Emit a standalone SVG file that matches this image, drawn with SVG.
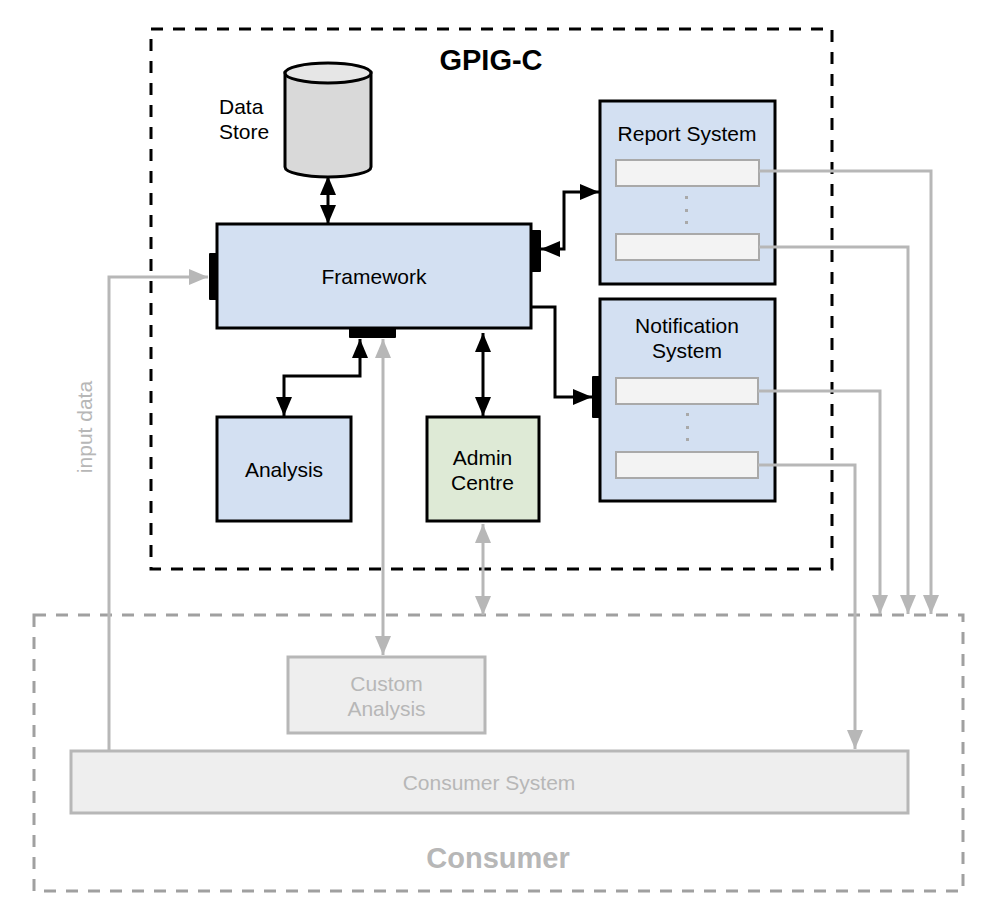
<svg xmlns="http://www.w3.org/2000/svg" width="993" height="922" viewBox="0 0 993 922">
<style>
text{font-family:"Liberation Sans",Arial,sans-serif;font-size:21px;text-anchor:middle;fill:#000}
.blue{fill:#d3e0f2;stroke:#000;stroke-width:3}
.green{fill:#deead6;stroke:#000;stroke-width:3}
.slot{fill:#f3f3f3;stroke:#a9a9a9;stroke-width:2}
.grey{fill:#eeeeee;stroke:#b7b7b7;stroke-width:3}
.port{fill:#000}
.k{fill:none;stroke:#000;stroke-width:3}
.g{fill:none;stroke:#b7b7b7;stroke-width:3}
.dot{fill:#a9a9a9}
</style>
<defs>
<marker id="ak" markerUnits="userSpaceOnUse" markerWidth="20" markerHeight="16" refX="19" refY="8" orient="auto-start-reverse" viewBox="0 0 20 16"><path d="M0 0L19 8L0 16Z" fill="#000"/></marker>
<marker id="ag" markerUnits="userSpaceOnUse" markerWidth="20" markerHeight="16" refX="19" refY="8" orient="auto-start-reverse" viewBox="0 0 20 16"><path d="M0 0L19 8L0 16Z" fill="#b7b7b7"/></marker>
</defs>
<g id="gpig-c"><rect x="151" y="29" width="681" height="540" fill="none" stroke="#000" stroke-width="3" stroke-dasharray="12 10"/><text x="491" y="70" style="font-size:29px;font-weight:bold">GPIG-C</text></g>
<g id="consumer"><rect x="34" y="615" width="929" height="276" fill="none" stroke="#a0a0a0" stroke-width="3" stroke-dasharray="12 10"/><text x="498" y="868" style="font-size:29px;font-weight:bold;fill:#b7b7b7">Consumer</text></g>
<g id="data-store"><path d="M285 73V167A43 10 0 0 0 371 167V73Z" fill="#d9d9d9" stroke="#000" stroke-width="3"/><ellipse cx="328" cy="73" rx="43" ry="10" fill="#e6e6e6" stroke="#000" stroke-width="3"/><text x="219" y="114" style="text-anchor:start">Data</text><text x="219" y="139" style="text-anchor:start">Store</text></g>
<g id="framework"><rect class="blue" x="217" y="224" width="314" height="104"/><text x="374" y="284">Framework</text><rect class="port" x="209" y="253" width="9" height="47" rx="1"/><rect class="port" x="531" y="230" width="10" height="42" rx="1"/><rect class="port" x="349" y="328" width="47" height="10" rx="1"/></g>
<g id="analysis"><rect class="blue" x="217" y="417" width="134" height="104"/><text x="284" y="477">Analysis</text></g>
<g id="admin-centre"><rect class="green" x="427" y="417" width="112" height="104"/><text x="482.500" y="465">Admin</text><text x="482.500" y="490">Centre</text></g>
<g id="report-system"><rect class="blue" x="600" y="101" width="175" height="183"/><text x="687" y="141">Report System</text><rect class="slot" x="616" y="160" width="143" height="26"/><rect class="slot" x="616" y="234" width="143" height="26"/><rect class="dot" x="685" y="196" width="3" height="3"/><rect class="dot" x="685" y="209" width="3" height="3"/><rect class="dot" x="685" y="221" width="3" height="3"/></g>
<g id="notification-system"><rect class="blue" x="600" y="299" width="175" height="202"/><text x="687" y="333">Notification</text><text x="687" y="358">System</text><rect class="slot" x="616" y="378" width="142" height="26"/><rect class="slot" x="616" y="452" width="142" height="26"/><rect class="dot" x="686" y="413" width="3" height="3"/><rect class="dot" x="686" y="426" width="3" height="3"/><rect class="dot" x="686" y="438" width="3" height="3"/><rect class="port" x="592" y="376" width="9" height="42" rx="1"/></g>
<g id="custom-analysis"><rect class="grey" x="288" y="657" width="197" height="76"/><text x="386.500" y="691" style="fill:#b7b7b7">Custom</text><text x="386.500" y="716" style="fill:#b7b7b7">Analysis</text></g>
<g id="consumer-system"><rect class="grey" x="71" y="751" width="837" height="62"/><text x="489" y="790" style="fill:#b7b7b7">Consumer System</text></g>
<g id="connectors">
<path class="k" d="M328 176V224" marker-start="url(#ak)" marker-end="url(#ak)"/>
<path class="k" d="M541 249H564V192H599" marker-start="url(#ak)" marker-end="url(#ak)"/>
<path class="k" d="M532 307H555V397H592" marker-end="url(#ak)"/>
<path class="k" d="M360 339V376H284V416" marker-start="url(#ak)" marker-end="url(#ak)"/>
<path class="k" d="M483 333V416" marker-start="url(#ak)" marker-end="url(#ak)"/>
<path class="g" d="M109 750V277H208" marker-end="url(#ag)"/>
<path class="g" d="M383 339V655" marker-start="url(#ag)" marker-end="url(#ag)"/>
<path class="g" d="M483 524V615" marker-start="url(#ag)" marker-end="url(#ag)"/>
<path class="g" d="M759 171H931V614" marker-end="url(#ag)"/>
<path class="g" d="M759 247H908V614" marker-end="url(#ag)"/>
<path class="g" d="M758 391H880V614" marker-end="url(#ag)"/>
<path class="g" d="M758 465H855V749" marker-end="url(#ag)"/>
</g>
<text x="0" y="0" transform="translate(92,427) rotate(-90)" style="fill:#b7b7b7">input data</text>
</svg>
